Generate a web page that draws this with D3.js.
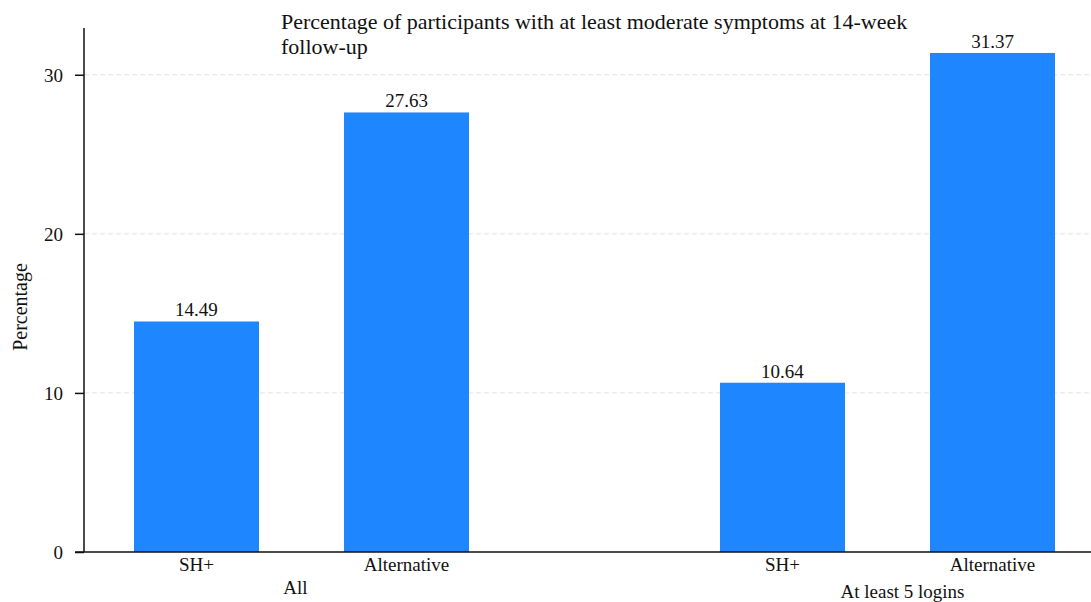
<!DOCTYPE html>
<html>
<head>
<meta charset="utf-8">
<script src="https://cdn.jsdelivr.net/npm/d3@7"></script>
<style>
  body { margin: 0; background: #fff; }
  svg { display: block; }
  text { font-family: "Liberation Serif", "Times New Roman", serif; fill: #111; }
</style>
</head>
<body>
<svg id="chart" width="1091" height="602"></svg>
<script>
// ---- data ----
const groups = ["All", "At least 5 logins"];
const subgroups = ["SH+", "Alternative"];
const valuesAll = [14.49, 27.63];
const valuesLogins = [10.64, 31.37];
const yTicks = [0, 10, 20, 30];
const titleLines = ["Percentage of participants with at least moderate symptoms at 14-week", "follow-up"];
const yLabel = "Percentage";

const seriesByGroup = [valuesAll, valuesLogins];
const data = [];
groups.forEach((g, gi) => subgroups.forEach((s, si) => data.push({ group: g, sub: s, value: seriesByGroup[gi][si] })));

const svg = d3.select("#chart");
const W = 1091, H = 602;
const y0 = 552, yTop = 28, axisX = 84;

const yMax = d3.max(data, d => d.value) * 1.05;
const y = d3.scaleLinear().domain([0, yMax]).range([y0, yTop]);

const x0 = d3.scaleBand().domain(groups).range([134, 1055]).paddingInner(251 / 586).paddingOuter(0);
const x1 = d3.scaleBand().domain(subgroups).range([0, x0.bandwidth()]).paddingInner(0.4048).paddingOuter(0);

// gridlines
svg.append("g").selectAll("line").data(yTicks.filter(t => t > 0)).join("line")
  .attr("x1", axisX).attr("x2", W)
  .attr("y1", d => y(d)).attr("y2", d => y(d))
  .attr("stroke", "#e3e3e3").attr("stroke-width", 1).attr("stroke-dasharray", "5,3");

// bars
svg.append("g").selectAll("rect").data(data).join("rect")
  .attr("x", d => x0(d.group) + x1(d.sub))
  .attr("y", d => y(d.value))
  .attr("width", x1.bandwidth())
  .attr("height", d => y0 - y(d.value))
  .attr("fill", "#1e87ff");

// value labels
svg.append("g").selectAll("text").data(data).join("text")
  .attr("x", d => x0(d.group) + x1(d.sub) + x1.bandwidth() / 2)
  .attr("y", d => y(d.value) - 5)
  .attr("text-anchor", "middle")
  .attr("font-size", 19)
  .text(d => d.value.toFixed(2));

// y axis
const yAxis = d3.axisLeft(y).tickValues(yTicks).tickSize(9).tickPadding(12).tickFormat(d3.format("d"));
const gy = svg.append("g").attr("transform", `translate(${axisX},0)`).call(yAxis);
gy.select(".domain").remove();
gy.selectAll(".tick line").attr("stroke", "#111").attr("stroke-width", 1.5);
gy.selectAll(".tick text").attr("font-size", 19).attr("font-family", "Liberation Serif, serif").attr("fill", "#111").attr("dy", "0.35em");
svg.append("line").attr("x1", axisX).attr("x2", axisX).attr("y1", yTop).attr("y2", y0)
  .attr("stroke", "#111").attr("stroke-width", 1.5);

// x axis line
svg.append("line").attr("x1", axisX - 9).attr("x2", W).attr("y1", y0).attr("y2", y0)
  .attr("stroke", "#111").attr("stroke-width", 1.5);

// sub-category labels
svg.append("g").selectAll("text").data(data).join("text")
  .attr("x", d => x0(d.group) + x1(d.sub) + x1.bandwidth() / 2)
  .attr("y", 571)
  .attr("text-anchor", "middle")
  .attr("font-size", 19)
  .text(d => d.sub);

// group labels
const groupDx = [-6, 15];
const groupDy = [594, 598];
svg.append("g").selectAll("text").data(groups).join("text")
  .attr("x", (d, i) => x0(d) + x0.bandwidth() / 2 + groupDx[i])
  .attr("y", (d, i) => groupDy[i])
  .attr("text-anchor", "middle")
  .attr("font-size", 19)
  .text(d => d);

// title
svg.append("g").selectAll("text").data(titleLines).join("text")
  .attr("x", 281)
  .attr("y", (d, i) => 29 + i * 25)
  .attr("font-size", 22)
  .text(d => d);

// y label
svg.append("text")
  .attr("transform", `translate(27,307) rotate(-90)`)
  .attr("text-anchor", "middle")
  .attr("font-size", 20)
  .text(yLabel);
</script>
</body>
</html>
